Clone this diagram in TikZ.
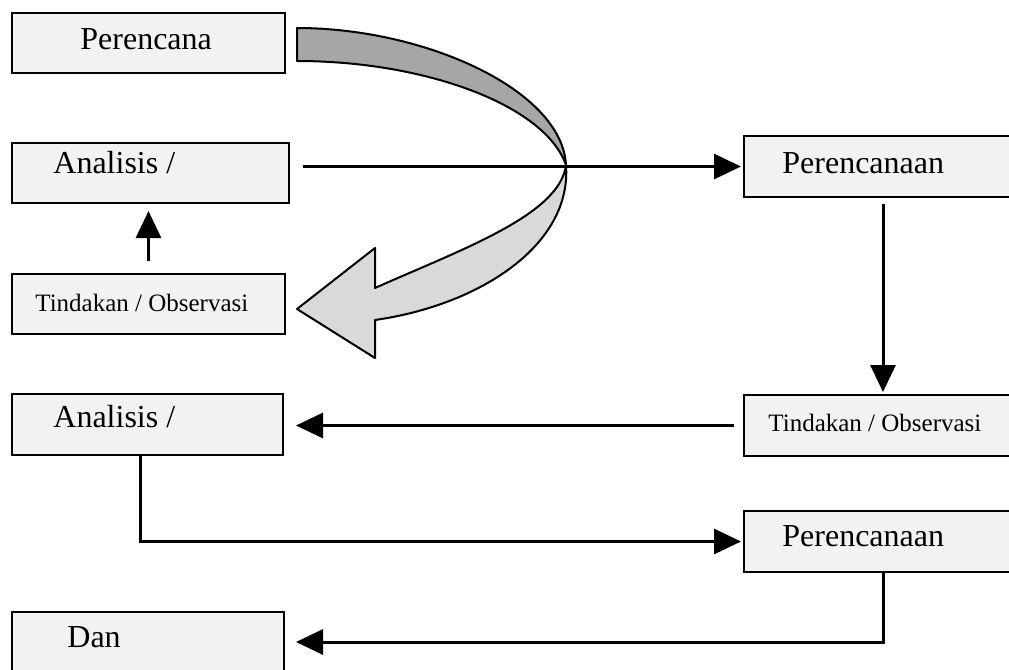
\documentclass[tikz,border=0pt]{standalone}
\usepackage{fontspec}
\setmainfont{Liberation Serif}
\usetikzlibrary{arrows.meta}
\definecolor{boxfill}{HTML}{F2F2F2}
\definecolor{bandback}{HTML}{A6A6A6}
\definecolor{bandfront}{HTML}{D9D9D9}
\tikzset{
  stepbox/.style={draw, fill=boxfill, line width=1pt, minimum height=30pt, inner sep=0pt},
  lbl/.style={anchor=base west, inner sep=0pt, font=\fontsize{16}{19}\selectfont},
  lblsmall/.style={anchor=base west, inner sep=0pt, font=\fontsize{12.5}{15}\selectfont},
  conn/.style={line width=1.5pt, -{Triangle[length=13.5pt,width=12.5pt]}},
  band/.style={draw, line width=1pt, line join=round}
}
\begin{document}
\begin{tikzpicture}[x=0.5pt, y=-0.5pt]
  \clip (0,0) rectangle (1009,670);
  \fill[white] (0,0) rectangle (1009,670);

  % Boxes on the left
  \node[stepbox, minimum width=136.5pt] (b1) at (148.5,43) {};
  \node[stepbox, minimum width=138.5pt] (b2) at (150.5,173) {};
  \node[stepbox, minimum width=136.5pt] (b3) at (148.5,304) {};
  \node[stepbox, minimum width=135.5pt, minimum height=30.5pt] (b4) at (147.5,424.5) {};
  \node[stepbox, minimum width=136pt] (b5) at (148,642) {};

  % Boxes on the right
  \node[stepbox, minimum width=139pt, minimum height=30.5pt] (r1) at (883,166.5) {};
  \node[stepbox, minimum width=139pt, minimum height=30.5pt] (r2) at (883,425.5) {};
  \node[stepbox, minimum width=139pt, minimum height=30.5pt] (r3) at (883,541.5) {};

  % Texts
  \node[lbl] (t1) at (80,49) {Perencana};
  \node[lbl] (t2) at (53,173) {Analisis /};
  \node[lblsmall] (t3) at (35,311) {Tindakan / Observasi};
  \node[lbl] (t4) at (53,427) {Analisis /};
  \node[lbl] (t5) at (67,647) {Dan};
  \node[lbl] (u1) at (782,173) {Perencanaan};
  \node[lblsmall] (u2) at (768,431) {Tindakan / Observasi};
  \node[lbl] (u3) at (782,546) {Perencanaan};

  % Curved arrow
  \coordinate (turn) at (566,165);
  \path[band, fill=bandback] (297,28) .. controls (425,28) and (562,90) .. (turn)
    .. controls (545,105) and (425,61) .. (297,61) -- cycle;
  \path[band, fill=bandfront] (turn) .. controls (572,245) and (480,305) .. (375,320)
    -- (375,358) -- (297,309) -- (375,248) -- (375,288)
    .. controls (460,250) and (560,215) .. (turn) -- cycle;

  % Connectors
  \draw[conn, shorten <=6pt, shorten >=3.5pt] (b3.north) -- (b3.north |- b2.south);
  \draw[conn, shorten <=6.5pt, shorten >=1pt] (b2.east |- r1.west) -- (r1.west);
  \draw[conn, shorten <=3pt, shorten >=1pt] (r1.south) -- (r2.north);
  \draw[conn, shorten <=4.5pt, shorten >=6pt] (r2.west) -- (r2.west -| b4.east);
  \draw[conn, shorten >=1pt] ([xshift=-3.75pt]b4.south) |- (r3.west);
  \draw[conn, shorten >=5.5pt] (r3.south) |- (b5.east);
\end{tikzpicture}
\end{document}
